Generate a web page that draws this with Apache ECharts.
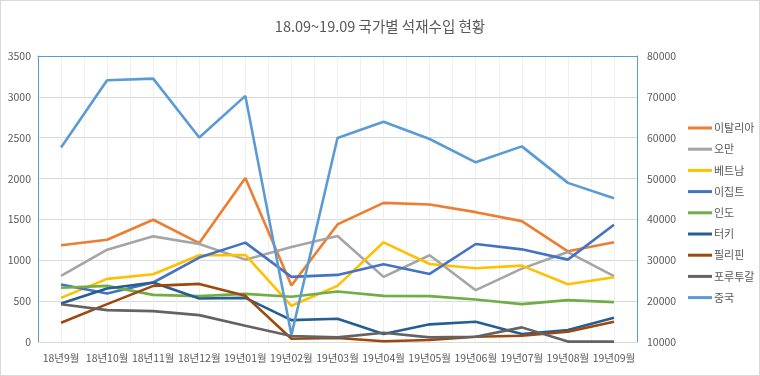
<!DOCTYPE html>
<html>
<head>
<meta charset="utf-8">
<script src="https://cdn.jsdelivr.net/npm/echarts@6/dist/echarts.min.js"></script>
<style>
html, body { margin: 0; padding: 0; background: #fff; }
#chart { width: 758px; height: 374px; border: 1px solid #d9d9d9; }
</style>
</head>
<body>
<div id="chart"></div>
<script>
const months = ['18년9월', '18년10월', '18년11월', '18년12월', '19년01월', '19년02월', '19년03월',
    '19년04월', '19년05월', '19년06월', '19년07월', '19년08월', '19년09월'];

// left axis
const italy = [1183, 1252, 1496, 1211, 2008, 691, 1439, 1703, 1683, 1589, 1479, 1110, 1220];
const oman = [809, 1130, 1293, 1200, 1008, 1162, 1297, 797, 1061, 634, 898, 1101, 805];
const vietnam = [540, 772, 829, 1061, 1065, 443, 687, 1220, 955, 902, 935, 707, 793];
const egypt = [703, 593, 728, 1033, 1216, 797, 821, 951, 833, 1199, 1134, 1008, 1435];
const india = [663, 687, 577, 561, 589, 553, 618, 565, 561, 520, 463, 512, 488];
const turkey = [472, 655, 728, 533, 540, 268, 284, 98, 216, 248, 98, 146, 296];
const philippines = [236, 463, 687, 711, 565, 40, 49, 10, 24, 65, 77, 126, 248];
const portugal = [463, 390, 378, 329, 199, 73, 57, 113, 57, 65, 179, 5, 5];
// right axis
const china = [57600, 74070, 74460, 60070, 70240, 11700, 59930, 63900, 59680, 53980, 57880, 48950, 45200];

const gridCols = months.flatMap(m => [m + 'a', m + 'b']);

const textColor = '#595959';
const chart = echarts.init(document.getElementById('chart'));

function line(name, data, color, axis) {
    return {
        name: name,
        type: 'line',
        data: data,
        yAxisIndex: axis,
        symbol: 'none',
        lineStyle: { width: 2.6, color: color },
        itemStyle: { color: color }
    };
}

chart.setOption({
    animation: false,
    textStyle: { fontFamily: '"Noto Sans CJK KR", sans-serif' },
    title: {
        text: '18.09~19.09 국가별 석재수입 현황',
        left: 'center',
        top: 13,
        textStyle: { fontSize: 14.5, fontWeight: 'normal', color: textColor, fontFamily: '"Noto Sans CJK KR", sans-serif' }
    },
    legend: {
        orient: 'vertical',
        left: 682,
        top: 115,
        itemWidth: 24,
        itemHeight: 3,
        itemGap: 7.2,
        icon: 'rect',
        textStyle: { fontSize: 11, color: textColor, lineHeight: 14, padding: [0, 0, 0, -3] },
        data: ['이탈리아', '오만', '베트남', '이집트', '인도', '터키', '필리핀', '포루투갈', '중국']
    },
    grid: { left: 37, right: 122, top: 55, bottom: 33 },
    xAxis: [{
        type: 'category',
        data: months,
        boundaryGap: true,
        axisLine: { lineStyle: { color: '#d9d9d9', width: 1 } },
        axisTick: { show: false },
        axisLabel: { interval: 0, color: textColor, fontSize: 10.5, margin: 11 },
        splitLine: { show: false }
    }, {
        type: 'category',
        data: gridCols,
        position: 'top',
        boundaryGap: true,
        axisLine: { lineStyle: { color: '#5b9bd5', width: 1 } },
        axisTick: { show: false },
        axisLabel: { show: false },
        splitLine: { show: true, interval: 0, lineStyle: { color: '#efefef', width: 1 } }
    }],
    yAxis: [{
        type: 'value',
        min: 0,
        max: 3500,
        interval: 500,
        axisLine: { show: true, lineStyle: { color: '#5b9bd5', width: 1 } },
        axisTick: { show: false },
        axisLabel: { color: textColor, fontSize: 10.5, margin: 7, formatter: v => String(v) },
        splitLine: { lineStyle: { color: '#d9d9d9', width: 1 } }
    }, {
        type: 'value',
        min: 10000,
        max: 80000,
        interval: 10000,
        axisLine: { show: true, lineStyle: { color: '#5b9bd5', width: 1 } },
        axisTick: { show: false },
        axisLabel: { color: textColor, fontSize: 10.5, margin: 10, formatter: v => String(v) },
        splitLine: { show: false }
    }],
    series: [
        line('이탈리아', italy, '#ed7d31', 0),
        line('오만', oman, '#a5a5a5', 0),
        line('베트남', vietnam, '#ffc000', 0),
        line('이집트', egypt, '#4472c4', 0),
        line('인도', india, '#70ad47', 0),
        line('터키', turkey, '#255e91', 0),
        line('필리핀', philippines, '#9e480e', 0),
        line('포루투갈', portugal, '#636363', 0),
        line('중국', china, '#5b9bd5', 1)
    ]
});
</script>
</body>
</html>
